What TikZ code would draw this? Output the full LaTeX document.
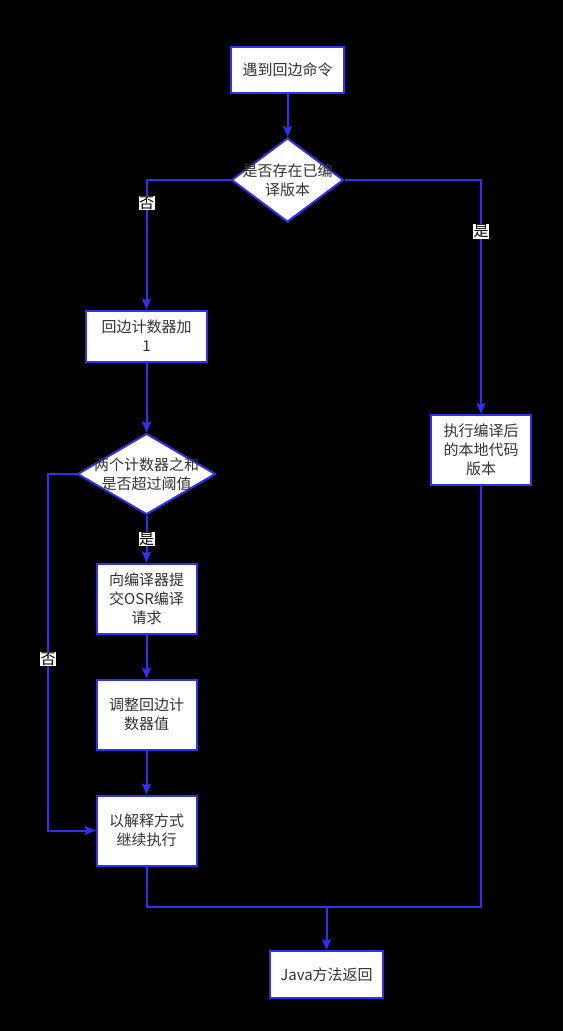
\documentclass[tikz,border=0pt]{standalone}
\usepackage{fontspec}
\newfontfamily\cjk{Noto Sans CJK SC}
\usetikzlibrary{arrows.meta,positioning,shapes.geometric}
\definecolor{flowblue}{RGB}{48,48,240}
\definecolor{txtgray}{RGB}{51,51,51}

\begin{document}
\begin{tikzpicture}[x=1pt, y=-1pt,
  box/.style={draw=flowblue, line width=2pt, fill=white, align=center,
              font=\cjk\fontsize{15}{19}\selectfont, text=txtgray,
              minimum width=100pt, minimum height=70pt, inner sep=0pt},
  dec/.style={shape=diamond, draw=flowblue, line width=2pt, fill=white, inner sep=0pt},
  dtxt/.style={align=center, font=\cjk\fontsize{15}{19}\selectfont, text=txtgray},
  yn/.style={fill=white, font=\cjk\fontsize{15}{19}\selectfont, text=black, inner sep=0.5pt},
  arr/.style={-{Stealth[length=11pt, width=9pt, inset=2pt]}, draw=flowblue, line width=2pt},
  wire/.style={draw=flowblue, line width=2pt}
]
\fill[black] (0,0) rectangle (563,1031);

\node[box, minimum width=113pt, minimum height=46pt] (start) at (287.5,70) {遇到回边命令};
\node[dec, minimum width=112pt, minimum height=84pt, below=43pt of start,
      label={[dtxt]center:{是否存在已编\\译版本}}] (chk) {};
\node[box, minimum width=121pt, minimum height=51pt] (inc) at (146.5,336) {回边计数器加\\1};
\node[dec, minimum width=138pt, minimum height=81pt, below=70pt of inc,
      label={[dtxt]center:{两个计数器之和\\是否超过阈值}}] (sum) {};
\node[box, below=47pt of sum] (osr) {向编译器提\\交OSR编译\\请求};
\node[box, below=44pt of osr] (adj) {调整回边计\\数器值};
\node[box, below=44pt of adj] (interp) {以解释方式\\继续执行};
\node[box] (nat) at (481,450) {执行编译后\\的本地代码\\版本};
\node[box, minimum width=113pt, minimum height=47pt] (ret) at (326.5,974.5) {Java方法返回};

\draw[arr] (start) -- (chk);
\draw[arr] (chk.west) -| node[yn, pos=0.59] {否} (inc.north);
\draw[arr] (chk.east) -| node[yn, pos=0.61] {是} (nat.north);
\draw[arr] (inc) -- (sum);
\draw[arr] (sum) -- node[yn] {是} (osr);
\draw[arr] (osr) -- (adj);
\draw[arr] (adj) -- (interp);
% the "no" branch skips the OSR request
\coordinate (nobend) at (sum.west -| 48,0);
\draw[arr] (sum.west) -- (nobend) |- node[yn, pos=0.26] {否} (interp.west);
% both ways end in the method return
\coordinate (merge) at (326.5,907);
\draw[wire] (interp.south) |- (merge);
\draw[wire] (nat.south) |- (merge);
\draw[arr] (merge) -- (ret.north);
\end{tikzpicture}
\end{document}
